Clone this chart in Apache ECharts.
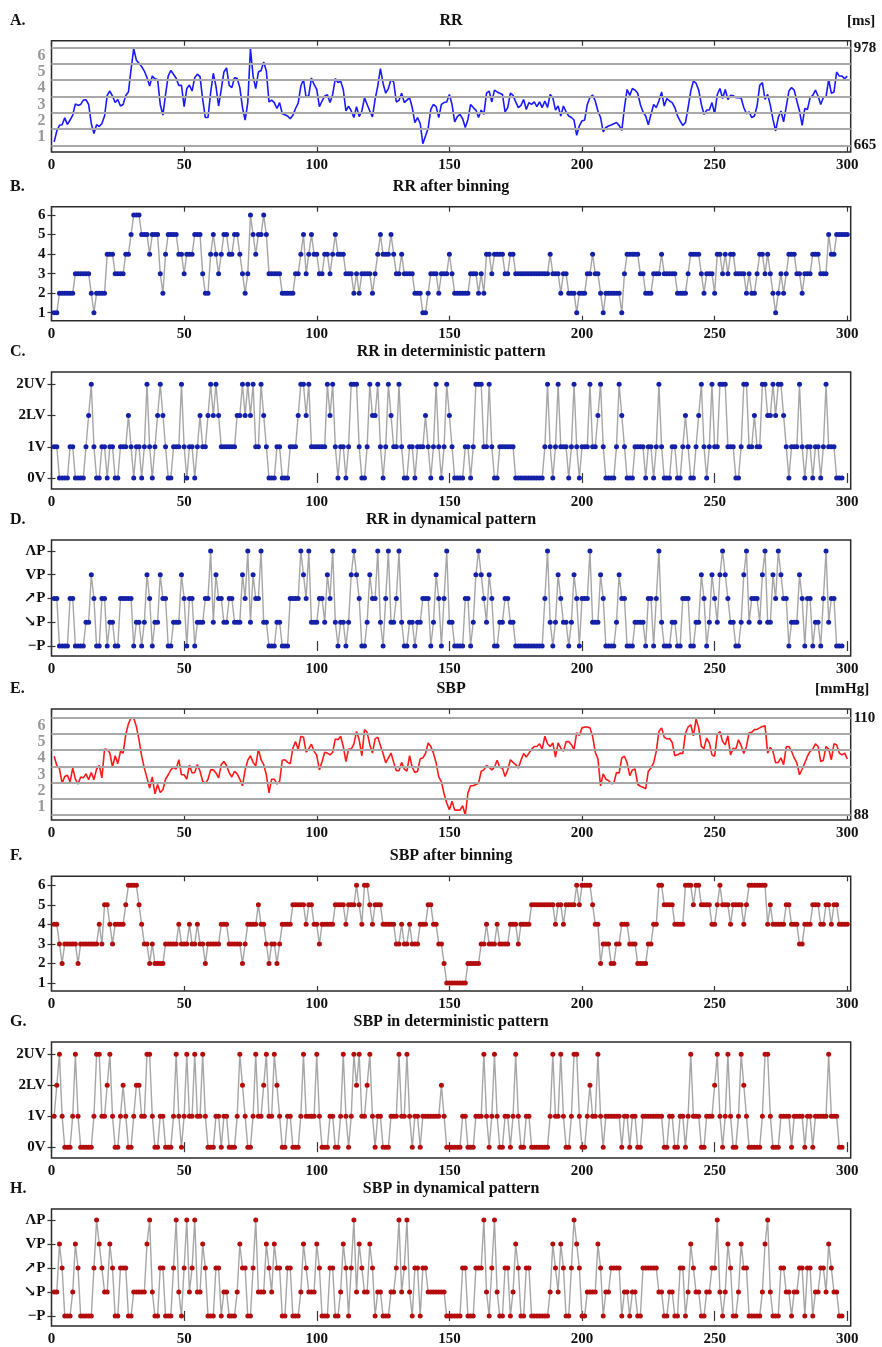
<!DOCTYPE html>
<html>
<head>
<meta charset="utf-8">
<script src="https://cdn.jsdelivr.net/npm/echarts@6/dist/echarts.min.js"></script>
<style>
  html, body { margin: 0; padding: 0; background: #fff; }
  #chart { width: 882px; height: 1347px; }
</style>
</head>
<body>
<div id="chart"></div>
<script>
// Beat index of every sample (1..300)
const beats = Array.from({ length: 300 }, (_, k) => k + 1);
const xTicks = [0, 50, 100, 150, 200, 250, 300];

// RR intervals [ms]
const rrMs = [
  676, 711, 729, 731, 753, 732, 746, 762, 798, 793, 796, 810, 811, 796, 735, 703, 731, 725, 735, 759,
  825, 839, 823, 802, 812, 791, 796, 825, 836, 909, 975, 938, 928, 917, 903, 882, 855, 887, 878, 876,
  796, 762, 828, 887, 905, 893, 880, 857, 857, 789, 847, 858, 839, 882, 893, 885, 812, 754, 754, 834,
  896, 855, 791, 844, 900, 913, 857, 850, 882, 879, 850, 786, 746, 802, 975, 887, 847, 900, 905, 932,
  903, 804, 810, 802, 783, 802, 766, 763, 759, 750, 761, 783, 800, 855, 876, 818, 825, 881, 860, 844,
  789, 807, 823, 827, 802, 828, 879, 866, 871, 844, 775, 791, 775, 754, 789, 757, 775, 817, 796, 775,
  756, 812, 855, 911, 864, 832, 847, 876, 868, 804, 809, 832, 802, 810, 818, 786, 738, 754, 735, 670,
  695, 720, 780, 796, 789, 754, 796, 802, 804, 828, 796, 740, 757, 764, 750, 722, 748, 796, 786, 778,
  754, 778, 764, 832, 839, 804, 842, 836, 832, 828, 772, 786, 832, 825, 804, 786, 793, 812, 780, 802,
  796, 804, 789, 804, 786, 807, 786, 828, 818, 778, 791, 759, 791, 772, 759, 754, 746, 697, 727, 743,
  746, 796, 818, 826, 807, 775, 754, 708, 722, 727, 730, 734, 738, 729, 713, 786, 844, 825, 847, 842,
  832, 796, 772, 759, 731, 764, 796, 786, 807, 836, 791, 815, 807, 802, 786, 759, 743, 729, 738, 786,
  839, 871, 864, 842, 796, 764, 778, 778, 802, 766, 828, 847, 815, 844, 812, 825, 824, 818, 818, 816,
  786, 766, 772, 754, 759, 791, 857, 866, 812, 828, 793, 748, 711, 754, 775, 740, 789, 839, 850, 842,
  807, 775, 729, 783, 780, 818, 825, 842, 823, 796, 818, 820, 876, 832, 836, 900, 887, 887, 879, 887
];

// RR quantised into 6 bins
const rrBin = [
  1, 1, 2, 2, 2, 2, 2, 2, 3, 3, 3, 3, 3, 3, 2, 1, 2, 2, 2, 2,
  4, 4, 4, 3, 3, 3, 3, 4, 4, 5, 6, 6, 6, 5, 5, 5, 4, 5, 5, 5,
  3, 2, 4, 5, 5, 5, 5, 4, 4, 3, 4, 4, 4, 5, 5, 5, 3, 2, 2, 4,
  5, 4, 3, 4, 5, 5, 4, 4, 5, 5, 4, 3, 2, 3, 6, 5, 4, 5, 5, 6,
  5, 3, 3, 3, 3, 3, 2, 2, 2, 2, 2, 3, 3, 4, 5, 3, 4, 5, 4, 4,
  3, 3, 4, 4, 3, 4, 5, 4, 4, 4, 3, 3, 3, 2, 3, 2, 3, 3, 3, 3,
  2, 3, 4, 5, 4, 4, 4, 5, 4, 3, 3, 4, 3, 3, 3, 3, 2, 2, 2, 1,
  1, 2, 3, 3, 3, 2, 3, 3, 3, 4, 3, 2, 2, 2, 2, 2, 2, 3, 3, 3,
  2, 3, 2, 4, 4, 3, 4, 4, 4, 4, 3, 3, 4, 4, 3, 3, 3, 3, 3, 3,
  3, 3, 3, 3, 3, 3, 3, 4, 3, 3, 3, 2, 3, 3, 2, 2, 2, 1, 2, 2,
  2, 3, 3, 4, 3, 3, 2, 1, 2, 2, 2, 2, 2, 2, 1, 3, 4, 4, 4, 4,
  4, 3, 3, 2, 2, 2, 3, 3, 3, 4, 3, 3, 3, 3, 3, 2, 2, 2, 2, 3,
  4, 4, 4, 4, 3, 2, 3, 3, 3, 2, 4, 4, 3, 4, 3, 4, 4, 3, 3, 3,
  3, 2, 3, 2, 2, 3, 4, 4, 3, 4, 3, 2, 1, 2, 3, 2, 3, 4, 4, 4,
  3, 3, 2, 3, 3, 3, 4, 4, 4, 3, 3, 3, 5, 4, 4, 5, 5, 5, 5, 5
];

// RR words of three beats: 0 = 0V, 1 = 1V, 2 = 2LV, 3 = 2UV
const rrDet = [
  1, 1, 0, 0, 0, 0, 1, 1, 0, 0, 0, 0, 1, 2, 3, 1, 0, 0, 1, 1,
  0, 1, 1, 0, 0, 1, 1, 1, 2, 1, 0, 1, 1, 0, 1, 3, 1, 0, 1, 2,
  3, 2, 1, 0, 0, 1, 1, 1, 3, 1, 0, 1, 1, 0, 1, 2, 1, 1, 2, 3,
  2, 3, 2, 1, 1, 1, 1, 1, 1, 2, 2, 3, 2, 3, 2, 3, 1, 1, 3, 2,
  1, 0, 0, 0, 1, 1, 0, 0, 0, 1, 1, 1, 2, 3, 3, 2, 3, 1, 1, 1,
  1, 1, 1, 3, 2, 3, 1, 0, 1, 1, 0, 1, 3, 3, 3, 1, 0, 0, 1, 3,
  2, 2, 3, 1, 0, 1, 3, 2, 1, 1, 3, 1, 0, 0, 1, 1, 0, 1, 1, 1,
  2, 1, 0, 1, 3, 1, 0, 1, 3, 2, 1, 0, 0, 0, 0, 1, 1, 0, 1, 3,
  3, 3, 1, 1, 3, 1, 0, 0, 1, 1, 1, 1, 1, 1, 0, 0, 0, 0, 0, 0,
  0, 0, 0, 0, 0, 1, 3, 1, 0, 1, 3, 1, 1, 1, 0, 1, 3, 1, 0, 1,
  1, 1, 3, 1, 1, 2, 3, 1, 0, 0, 0, 0, 1, 3, 2, 1, 0, 0, 0, 1,
  1, 1, 1, 0, 1, 1, 0, 1, 3, 1, 0, 0, 0, 1, 1, 0, 0, 1, 2, 1,
  0, 0, 1, 2, 3, 1, 0, 1, 3, 1, 1, 3, 3, 3, 1, 1, 1, 0, 0, 1,
  3, 3, 1, 1, 2, 1, 1, 3, 3, 2, 2, 3, 2, 3, 3, 2, 1, 0, 1, 1,
  1, 3, 1, 0, 1, 1, 0, 1, 1, 0, 1, 3, 1, 1, 1, 0, 0, 0
];

// RR words by shape: 0 = -P, 1 = falling, 2 = rising, 3 = valley, 4 = peak
const rrDyn = [
  2, 2, 0, 0, 0, 0, 2, 2, 0, 0, 0, 0, 1, 1, 3, 2, 0, 0, 2, 2,
  0, 1, 1, 0, 0, 2, 2, 2, 2, 2, 0, 1, 1, 0, 1, 3, 2, 0, 1, 1,
  3, 2, 2, 0, 0, 1, 1, 1, 3, 2, 0, 2, 2, 0, 1, 1, 1, 2, 2, 4,
  1, 3, 2, 2, 1, 1, 2, 2, 1, 1, 1, 3, 2, 4, 1, 3, 2, 2, 4, 1,
  1, 0, 0, 0, 1, 1, 0, 0, 0, 2, 2, 2, 2, 4, 3, 2, 4, 1, 1, 1,
  2, 2, 1, 3, 2, 4, 1, 0, 1, 1, 0, 1, 3, 4, 3, 2, 0, 0, 1, 3,
  2, 2, 4, 1, 0, 2, 4, 1, 1, 2, 4, 1, 0, 0, 1, 1, 0, 1, 1, 2,
  2, 2, 0, 1, 3, 2, 0, 2, 4, 1, 1, 0, 0, 0, 0, 2, 2, 0, 1, 3,
  4, 3, 2, 1, 3, 2, 0, 0, 1, 1, 2, 2, 1, 1, 0, 0, 0, 0, 0, 0,
  0, 0, 0, 0, 0, 2, 4, 1, 0, 1, 3, 2, 1, 1, 0, 1, 3, 2, 0, 2,
  2, 2, 4, 1, 1, 1, 3, 2, 0, 0, 0, 0, 1, 3, 2, 2, 0, 0, 0, 1,
  1, 1, 1, 0, 2, 2, 0, 2, 4, 1, 0, 0, 0, 1, 1, 0, 0, 2, 2, 2,
  0, 0, 1, 1, 3, 2, 0, 1, 3, 2, 1, 3, 4, 3, 2, 1, 1, 0, 0, 1,
  3, 4, 1, 2, 2, 2, 1, 3, 4, 1, 1, 3, 2, 4, 3, 2, 2, 0, 1, 1,
  1, 3, 2, 0, 2, 2, 0, 1, 1, 0, 2, 4, 1, 2, 2, 0, 0, 0
];

// Systolic blood pressure [mmHg]
const sbpMmHg = [
  101.3, 99.2, 98.5, 95.2, 96.7, 97.0, 95.5, 98.6, 96.1, 95.0, 96.6, 96.4, 97.3, 96.0, 97.6, 96.0, 98.4, 99.2, 96.4, 102.9,
  102.8, 102.0, 98.8, 101.4, 99.6, 102.4, 102.0, 106.2, 108.6, 110.0, 109.9, 108.0, 105.0, 101.3, 98.6, 96.4, 94.1, 96.6, 92.8, 94.9,
  93.1, 93.7, 96.1, 97.1, 98.2, 98.8, 98.4, 100.5, 97.1, 97.1, 96.1, 99.3, 97.5, 97.6, 99.4, 97.9, 95.6, 95.1, 96.1, 98.2,
  98.2, 97.5, 96.4, 99.4, 100.1, 99.2, 97.5, 96.6, 97.9, 97.3, 96.1, 94.6, 98.2, 100.4, 101.4, 99.9, 99.1, 102.9, 100.5, 99.4,
  97.1, 93.0, 96.1, 96.1, 95.0, 95.6, 100.4, 100.5, 99.9, 99.6, 103.1, 104.6, 102.8, 105.8, 105.6, 102.2, 103.0, 104.0, 102.4, 101.5,
  98.2, 100.1, 102.2, 102.0, 101.6, 102.2, 105.2, 105.0, 105.8, 103.5, 100.1, 102.9, 102.9, 104.1, 106.9, 105.0, 101.4, 107.3, 106.7, 103.9,
  102.0, 105.2, 105.6, 103.7, 101.9, 99.8, 100.9, 102.0, 99.9, 98.0, 98.0, 99.9, 98.4, 97.9, 101.4, 98.8, 97.6, 97.9, 100.7, 100.9,
  101.9, 104.3, 103.5, 102.0, 99.8, 96.6, 95.5, 92.8, 90.7, 89.2, 91.1, 89.1, 89.1, 89.1, 90.1, 88.0, 93.0, 94.6, 94.6, 94.9,
  95.2, 97.9, 98.2, 99.2, 98.8, 98.2, 98.8, 100.4, 98.8, 98.6, 96.7, 98.2, 100.5, 99.9, 99.4, 98.6, 100.4, 101.9, 101.1, 102.0,
  102.9, 103.5, 103.5, 104.1, 102.9, 105.8, 104.1, 103.5, 104.3, 101.1, 104.3, 103.1, 102.4, 104.6, 104.6, 103.9, 102.8, 106.6, 106.0, 107.7,
  107.9, 107.9, 107.7, 105.8, 102.2, 100.7, 94.6, 97.3, 96.1, 95.8, 95.1, 95.2, 97.6, 97.5, 100.9, 101.3, 99.8, 96.9, 98.2, 98.4,
  94.9, 94.5, 94.3, 93.9, 97.9, 98.6, 99.8, 102.4, 106.9, 107.7, 105.6, 105.2, 105.3, 104.4, 101.4, 101.6, 102.0, 101.9, 106.5, 107.9,
  108.4, 105.9, 109.7, 107.7, 103.5, 103.0, 105.4, 104.3, 101.6, 101.3, 106.2, 106.9, 104.6, 103.9, 105.9, 101.6, 103.1, 102.9, 105.0, 103.7,
  101.9, 103.5, 106.6, 106.7, 107.3, 107.4, 107.7, 108.0, 108.2, 102.0, 103.3, 102.4, 99.8, 99.9, 100.9, 99.4, 103.4, 103.5, 102.4, 100.9,
  99.8, 97.1, 98.4, 99.8, 101.3, 102.4, 102.9, 104.1, 103.5, 100.1, 100.4, 103.5, 102.9, 100.5, 104.1, 103.9, 102.0, 101.6, 102.0, 100.7
];

// SBP quantised into 6 bins
const sbpBin = [
  4, 4, 3, 2, 3, 3, 3, 3, 3, 2, 3, 3, 3, 3, 3, 3, 3, 4, 3, 5,
  5, 4, 3, 4, 4, 4, 4, 5, 6, 6, 6, 6, 5, 4, 3, 3, 2, 3, 2, 2,
  2, 2, 3, 3, 3, 3, 3, 4, 3, 3, 3, 4, 3, 3, 4, 3, 3, 2, 3, 3,
  3, 3, 3, 4, 4, 4, 3, 3, 3, 3, 3, 2, 3, 4, 4, 4, 4, 5, 4, 4,
  3, 2, 3, 3, 2, 3, 4, 4, 4, 4, 5, 5, 5, 5, 5, 4, 5, 5, 4, 4,
  3, 4, 4, 4, 4, 4, 5, 5, 5, 5, 4, 5, 5, 5, 6, 5, 4, 6, 6, 5,
  4, 5, 5, 5, 4, 4, 4, 4, 4, 3, 3, 4, 3, 3, 4, 3, 3, 3, 4, 4,
  4, 5, 5, 4, 4, 3, 3, 2, 1, 1, 1, 1, 1, 1, 1, 1, 2, 2, 2, 2,
  2, 3, 3, 4, 3, 3, 3, 4, 3, 3, 3, 3, 4, 4, 4, 3, 4, 4, 4, 4,
  5, 5, 5, 5, 5, 5, 5, 5, 5, 4, 5, 5, 4, 5, 5, 5, 5, 6, 5, 6,
  6, 6, 6, 5, 4, 4, 2, 3, 3, 3, 2, 2, 3, 3, 4, 4, 4, 3, 3, 3,
  2, 2, 2, 2, 3, 3, 4, 4, 6, 6, 5, 5, 5, 5, 4, 4, 4, 4, 6, 6,
  6, 5, 6, 6, 5, 5, 5, 5, 4, 4, 5, 6, 5, 5, 5, 4, 5, 5, 5, 5,
  4, 5, 6, 6, 6, 6, 6, 6, 6, 4, 5, 4, 4, 4, 4, 4, 5, 5, 4, 4,
  4, 3, 3, 4, 4, 4, 5, 5, 5, 4, 4, 5, 5, 4, 5, 5, 4, 4, 4, 4
];

// SBP words of three beats: 0 = 0V, 1 = 1V, 2 = 2LV, 3 = 2UV
const sbpDet = [
  1, 2, 3, 1, 0, 0, 0, 1, 3, 1, 0, 0, 0, 0, 0, 1, 3, 3, 1, 1,
  2, 3, 1, 0, 0, 1, 2, 1, 0, 0, 1, 2, 2, 1, 1, 3, 3, 1, 0, 0,
  1, 1, 0, 0, 0, 1, 3, 1, 0, 1, 3, 1, 1, 3, 1, 1, 3, 1, 0, 0,
  0, 1, 1, 0, 1, 1, 0, 0, 0, 1, 3, 2, 1, 0, 0, 1, 3, 1, 1, 2,
  3, 1, 1, 3, 2, 1, 0, 0, 1, 1, 0, 0, 0, 1, 3, 1, 1, 1, 1, 3,
  1, 0, 0, 0, 1, 1, 0, 0, 1, 3, 1, 0, 1, 3, 2, 3, 1, 1, 2, 3,
  1, 0, 1, 1, 0, 0, 0, 1, 1, 1, 3, 1, 1, 3, 1, 0, 1, 1, 0, 1,
  1, 1, 1, 1, 1, 1, 2, 1, 0, 0, 0, 0, 0, 0, 1, 1, 0, 0, 0, 1,
  1, 1, 3, 1, 0, 1, 3, 1, 0, 0, 1, 1, 0, 1, 3, 1, 0, 0, 1, 1,
  0, 0, 0, 0, 0, 0, 0, 1, 3, 1, 1, 3, 1, 0, 0, 1, 3, 3, 1, 0,
  0, 1, 2, 1, 1, 3, 1, 0, 1, 1, 1, 1, 1, 1, 0, 1, 1, 0, 1, 1,
  0, 0, 1, 1, 1, 1, 1, 1, 1, 1, 0, 0, 1, 1, 0, 0, 1, 1, 0, 1,
  3, 1, 1, 1, 0, 0, 1, 1, 1, 2, 3, 1, 0, 1, 3, 1, 0, 0, 1, 3,
  2, 1, 0, 0, 0, 0, 0, 1, 3, 3, 1, 0, 0, 0, 1, 1, 1, 1, 0, 1,
  1, 1, 1, 0, 1, 1, 0, 1, 1, 1, 1, 1, 3, 1, 1, 1, 0, 0
];

// SBP words by shape: 0 = -P, 1 = falling, 2 = rising, 3 = valley, 4 = peak
const sbpDyn = [
  1, 1, 3, 2, 0, 0, 0, 1, 3, 2, 0, 0, 0, 0, 0, 2, 4, 3, 2, 1,
  1, 3, 2, 0, 0, 2, 2, 2, 0, 0, 1, 1, 1, 1, 1, 3, 4, 1, 0, 0,
  2, 2, 0, 0, 0, 2, 4, 1, 0, 2, 4, 1, 2, 4, 1, 1, 3, 2, 0, 0,
  0, 2, 2, 0, 1, 1, 0, 0, 0, 1, 3, 2, 2, 0, 0, 2, 4, 1, 1, 1,
  3, 2, 1, 3, 2, 2, 0, 0, 2, 2, 0, 0, 0, 1, 3, 2, 1, 1, 1, 3,
  2, 0, 0, 0, 2, 2, 0, 0, 1, 3, 2, 0, 2, 4, 1, 3, 2, 1, 1, 3,
  2, 0, 1, 1, 0, 0, 0, 1, 1, 2, 4, 1, 2, 4, 1, 0, 2, 2, 0, 2,
  2, 1, 1, 1, 1, 1, 1, 1, 0, 0, 0, 0, 0, 0, 2, 2, 0, 0, 0, 2,
  2, 2, 4, 1, 0, 2, 4, 1, 0, 0, 2, 2, 0, 1, 3, 2, 0, 0, 2, 2,
  0, 0, 0, 0, 0, 0, 0, 1, 3, 2, 1, 3, 2, 0, 0, 2, 4, 3, 2, 0,
  0, 1, 1, 1, 1, 3, 2, 0, 1, 1, 2, 2, 2, 2, 0, 1, 1, 0, 1, 1,
  0, 0, 2, 2, 2, 2, 2, 2, 1, 1, 0, 0, 1, 1, 0, 0, 2, 2, 0, 1,
  3, 2, 1, 1, 0, 0, 1, 1, 2, 2, 4, 1, 0, 1, 3, 2, 0, 0, 1, 3,
  2, 2, 0, 0, 0, 0, 0, 1, 3, 4, 1, 0, 0, 0, 2, 2, 1, 1, 0, 1,
  1, 2, 2, 0, 2, 2, 0, 1, 1, 2, 2, 1, 3, 2, 1, 1, 0, 0
];

// Axis label texts
const binLabels = ['1', '2', '3', '4', '5', '6'];
const detLabels = ['0V', '1V', '2LV', '2UV'];
const dynLabels = ['\u2212P', '\u2198P', '\u2197P', 'VP', '\u039BP'];
const rrRange = [665, 978];      // ms at the lowest and highest bin edge
const sbpRange = [88, 110];      // mmHg at the lowest and highest bin edge

// ---------- drawing ----------
const FONT = '"Liberation Serif", "DejaVu Serif", "Times New Roman", serif';
const BLUE_LINE = '#1a1aff';
const BLUE_DOT = '#1420a8';
const RED_LINE = '#ff1a1a';
const RED_DOT = '#b40c0c';
const CONNECT = '#a6a6a6';
const PLOT_LEFT = 51.5, PLOT_WIDTH = 799.2, X_MAX = 301.3;

const pairs = (ys) => ys.map((v, k) => [beats[k], v]);

const panels = [
  { tag: 'A.', title: 'RR', top: 40.7, height: 111.3, kind: 'raw', values: rrMs, range: rrRange, pad: [21.5, 22.4], unit: '[ms]', unitX: 847, line: BLUE_LINE },
  { tag: 'B.', title: 'RR after binning', top: 206.7, height: 114, kind: 'sym', values: rrBin, labels: binLabels, yMin: 0.59, yMax: 6.43, dot: BLUE_DOT },
  { tag: 'C.', title: 'RR in deterministic pattern', top: 372, height: 117, kind: 'sym', values: rrDet, labels: detLabels, yMin: -0.35, yMax: 3.39, dot: BLUE_DOT },
  { tag: 'D.', title: 'RR in dynamical pattern', top: 540, height: 116, kind: 'sym', values: rrDyn, labels: dynLabels, yMin: -0.42, yMax: 4.46, dot: BLUE_DOT },
  { tag: 'E.', title: 'SBP', top: 709, height: 111, kind: 'raw', values: sbpMmHg, range: sbpRange, pad: [1.13, 1.97], unit: '[mmHg]', unitX: 815, line: RED_LINE },
  { tag: 'F.', title: 'SBP after binning', top: 876.3, height: 114.7, kind: 'sym', values: sbpBin, labels: binLabels, yMin: 0.59, yMax: 6.46, dot: RED_DOT },
  { tag: 'G.', title: 'SBP in deterministic pattern', top: 1042, height: 116, kind: 'sym', values: sbpDet, labels: detLabels, yMin: -0.35, yMax: 3.4, dot: RED_DOT },
  { tag: 'H.', title: 'SBP in dynamical pattern', top: 1209, height: 117, kind: 'sym', values: sbpDyn, labels: dynLabels, yMin: -0.42, yMax: 4.46, dot: RED_DOT }
];

const grid = [], xAxis = [], yAxis = [], series = [], graphic = [];
const labelStyle = { fontFamily: FONT, fontWeight: 'bold', fontSize: 15, color: '#111' };
const tickStyle = { show: true, inside: true, length: 5, lineStyle: { color: '#333', width: 1.2 } };

panels.forEach((p, g) => {
  grid.push({
    left: PLOT_LEFT, width: PLOT_WIDTH, top: p.top, height: p.height,
    show: true, borderColor: '#2a2a2a', borderWidth: 1.5, backgroundColor: 'transparent'
  });
  // bottom axis with labels, top axis with ticks only
  xAxis.push({
    type: 'value', gridIndex: g, min: 0, max: X_MAX, position: 'bottom',
    axisLine: { show: false }, splitLine: { show: false },
    axisTick: Object.assign({ customValues: xTicks }, tickStyle),
    axisLabel: Object.assign({ customValues: xTicks, margin: 6 }, labelStyle)
  });
  xAxis.push({
    type: 'value', gridIndex: g, min: 0, max: X_MAX, position: 'top',
    axisLine: { show: false }, splitLine: { show: false },
    axisTick: Object.assign({ customValues: xTicks }, tickStyle),
    axisLabel: { show: false }
  });
  const xi = 2 * g;
  const yBase = yAxis.length;

  if (p.kind === 'raw') {
    const lo = p.range[0], hi = p.range[1];
    const step = (hi - lo) / 6;
    const vMin = lo - p.pad[0], vMax = hi + p.pad[1];
    const toBin = (v) => 0.5 + (v - lo) / step;
    // left axis: bin numbers 1..6 in gray
    yAxis.push({
      type: 'value', gridIndex: g, position: 'left', min: toBin(vMin), max: toBin(vMax),
      axisLine: { show: false }, splitLine: { show: false },
      axisTick: { show: false },
      axisLabel: Object.assign({}, labelStyle, {
        color: '#999999', fontSize: 16, margin: 6, customValues: [1, 2, 3, 4, 5, 6],
        formatter: (v) => binLabels[Math.round(v) - 1]
      })
    });
    // right axis: physical units
    yAxis.push({
      type: 'value', gridIndex: g, position: 'right', min: vMin, max: vMax,
      axisLine: { show: false }, splitLine: { show: false },
      axisTick: { show: false },
      axisLabel: Object.assign({}, labelStyle, { margin: 3, customValues: [lo, hi] })
    });
    // bin edges
    const edges = Array.from({ length: 7 }, (_, k) => ({ yAxis: lo + k * step }));
    series.push({
      type: 'line', xAxisIndex: xi, yAxisIndex: yBase + 1, data: [], z: 1, silent: true,
      markLine: {
        silent: true, symbol: 'none', animation: false, label: { show: false },
        lineStyle: { color: '#a8a8a8', width: 1.8, type: 'solid' },
        data: edges
      }
    });
    series.push({
      type: 'line', xAxisIndex: xi, yAxisIndex: yBase + 1, data: pairs(p.values), z: 3,
      showSymbol: false, animation: false,
      lineStyle: { color: p.line, width: 1.6 }
    });
    graphic.push({
      type: 'text', x: p.unitX, y: p.top - 20,
      style: { text: p.unit, font: 'bold 15px ' + FONT, fill: '#111', textVerticalAlign: 'middle', verticalAlign: 'middle' }
    });
  } else {
    const cv = p.labels.map((_, k) => (p.labels === binLabels ? k + 1 : k));
    yAxis.push({
      type: 'value', gridIndex: g, position: 'left', min: p.yMin, max: p.yMax,
      axisLine: { show: false }, splitLine: { show: false },
      axisTick: Object.assign({ customValues: cv }, tickStyle, { length: 4 }),
      axisLabel: Object.assign({}, labelStyle, {
        margin: 6, customValues: cv,
        formatter: (v) => p.labels[Math.round(v) - (p.labels === binLabels ? 1 : 0)]
      })
    });
    yAxis.push({
      type: 'value', gridIndex: g, position: 'right', min: p.yMin, max: p.yMax,
      axisLine: { show: false }, splitLine: { show: false },
      axisTick: Object.assign({ customValues: cv }, tickStyle, { length: 4 }),
      axisLabel: { show: false }
    });
    series.push({
      type: 'line', xAxisIndex: xi, yAxisIndex: yBase, data: pairs(p.values), z: 3,
      animation: false, symbol: 'circle', symbolSize: 5, showAllSymbol: true,
      lineStyle: { color: CONNECT, width: 1.4 },
      itemStyle: { color: p.dot, borderWidth: 0 }
    });
  }

  // panel letter and title
  graphic.push({
    type: 'text', x: 10, y: p.top - 20,
    style: { text: p.tag, font: 'bold 16px ' + FONT, fill: '#111', textVerticalAlign: 'middle', verticalAlign: 'middle' }
  });
  graphic.push({
    type: 'text', x: PLOT_LEFT + PLOT_WIDTH / 2, y: p.top - 20,
    style: { text: p.title, font: 'bold 16px ' + FONT, fill: '#111', textAlign: 'center', align: 'center', textVerticalAlign: 'middle', verticalAlign: 'middle' }
  });
});

const chart = echarts.init(document.getElementById('chart'), null, { renderer: 'canvas' });
chart.setOption({
  backgroundColor: '#ffffff',
  animation: false,
  grid, xAxis, yAxis, series, graphic
});
</script>
</body>
</html>
